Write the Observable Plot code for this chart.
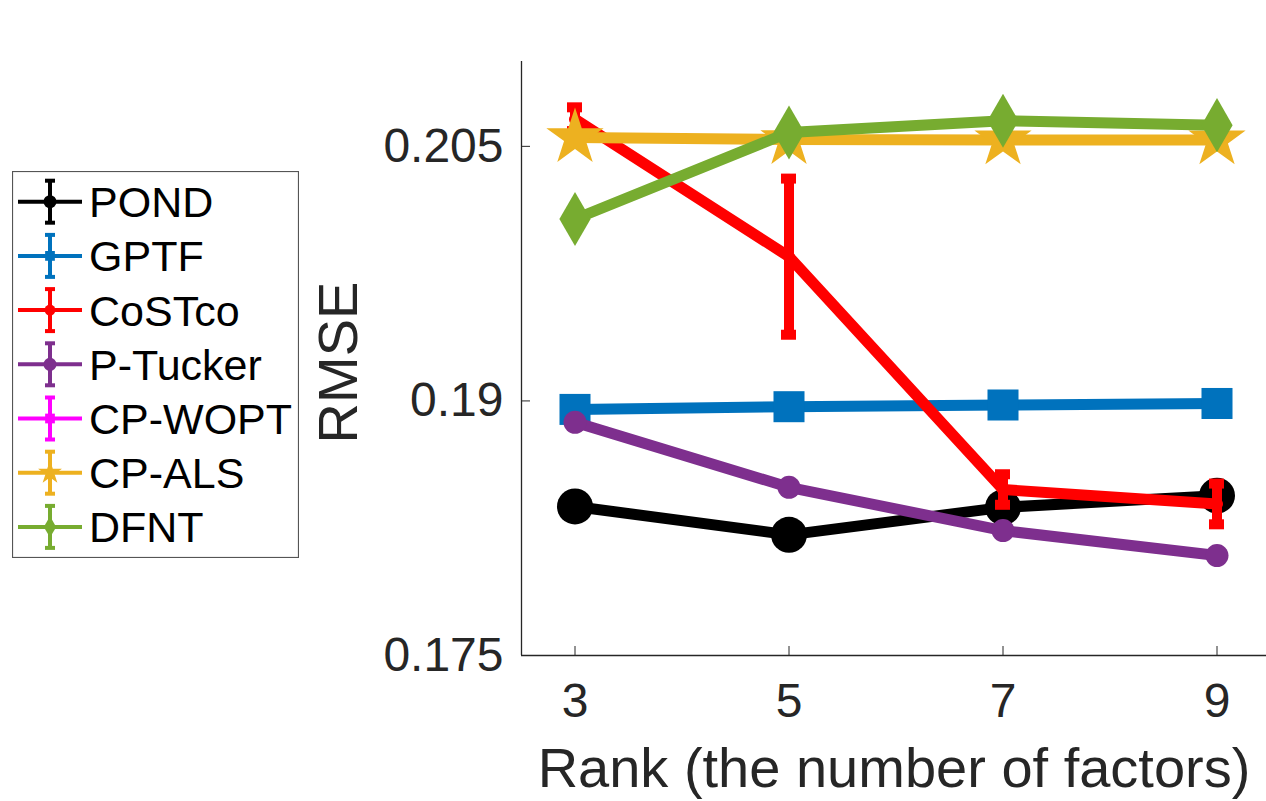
<!DOCTYPE html>
<html><head><meta charset="utf-8">
<script src="https://cdn.jsdelivr.net/npm/d3@7"></script>
<script src="https://cdn.jsdelivr.net/npm/@observablehq/plot@0.6"></script>
<style>
html,body{margin:0;padding:0;background:#fff;}
#wrap{position:relative;width:1266px;height:801px;overflow:hidden;}
#legend{position:absolute;left:12px;top:171px;}
</style></head><body><div id="wrap"></div>
<script>
// ---- data ----
const ranks = [3, 5, 7, 9];
const yTicks = [0.175, 0.19, 0.205];
const methods = ["POND", "GPTF", "CoSTco", "P-Tucker", "CP-WOPT", "CP-ALS", "DFNT"];
const colors = ["#000000", "#0072BD", "#FF0000", "#7E2F8E", "#FF00FF", "#EDB120", "#77AC30"];
const pond     = [0.18378, 0.18211, 0.18373, 0.18442];
const pondErr  = [0, 0, 0, 0];
const gptf     = [0.18950, 0.18966, 0.18976, 0.18985];
const gptfErr  = [0, 0, 0, 0];
const costco   = [0.20660, 0.19850, 0.18478, 0.18393];
const costcoErr= [0.0007, 0.0046, 0.0009, 0.0012];
const ptucker  = [0.18874, 0.18491, 0.18236, 0.18089];
const ptuckerErr = [0, 0, 0, 0];
const cpwopt   = [];   // CP-WOPT lies outside the plotted range (legend only)
const cpwoptErr= [];
const cpals    = [0.20552, 0.20540, 0.20538, 0.20538];
const cpalsErr = [0, 0, 0, 0];
const dfnt     = [0.20072, 0.20582, 0.20651, 0.20625];
const dfntErr  = [0, 0, 0, 0];

const seriesValues = [pond, gptf, costco, ptucker, cpwopt, cpals, dfnt];
const seriesErrs = [pondErr, gptfErr, costcoErr, ptuckerErr, cpwoptErr, cpalsErr, dfntErr];
const symbols = ["circle", "square", "circle", "circle", "square", "star", "diamond"];
const markerR = [18, 17.5, 6, 11.5, 8, 18, 16.4];
const legendR = [6.5, 5.5, 5.5, 6.5, 5.5, 7.5, 6.5];

const FONT = "'Liberation Sans', Arial, Helvetica, sans-serif";
const INK = "#262626";

// ---- build marks ----
const marks = [];
marks.push(Plot.ruleY([0.175], {stroke: INK, strokeWidth: 1.3}));
marks.push(Plot.ruleX([2.5], {stroke: INK, strokeWidth: 1.3}));
marks.push(Plot.axisY(yTicks, {tickSize: -9, tickPadding: 27, tickFormat: d => String(d), label: null, fontSize: 48, stroke: INK, fill: INK}));
marks.push(Plot.axisX(ranks, {tickSize: -9, tickPadding: 36, tickFormat: d => String(d), label: null, fontSize: 48, stroke: INK, fill: INK}));
marks.push(Plot.text(["RMSE"], {frameAnchor: "left", textAnchor: "middle", lineAnchor: "middle", dx: -182, dy: 4, rotate: -90, fontSize: 56, fill: INK}));
marks.push(Plot.text(["Rank (the number of factors)"], {frameAnchor: "bottom", dy: 131, fontSize: 56, fill: INK}));

methods.forEach((m, i) => {
  const rows = seriesValues[i].map((v, j) => ({rank: ranks[j], rmse: v, err: seriesErrs[i][j]}));
  if (!rows.length) return;
  const c = colors[i];
  marks.push(Plot.line(rows, {x: "rank", y: "rmse", stroke: c, strokeWidth: 11, strokeLinejoin: "miter"}));
  const eb = rows.filter(d => d.err > 0);
  if (eb.length) {
    marks.push(Plot.ruleX(eb, {x: "rank", y1: d => d.rmse - d.err, y2: d => d.rmse + d.err, stroke: c, strokeWidth: 10}));
    marks.push(Plot.ruleY(eb, {y: d => d.rmse + d.err, x1: d => d.rank - 0.07, x2: d => d.rank + 0.07, stroke: c, strokeWidth: 10}));
    marks.push(Plot.ruleY(eb, {y: d => d.rmse - d.err, x1: d => d.rank - 0.07, x2: d => d.rank + 0.07, stroke: c, strokeWidth: 10}));
  }
  marks.push(Plot.dot(rows, {x: "rank", y: "rmse", fill: c, stroke: "none", symbol: symbols[i], r: markerR[i]}));
});

const chart = Plot.plot({
  width: 1266, height: 801,
  marginLeft: 521, marginRight: 0, marginTop: 61, marginBottom: 146,
  x: {domain: [2.5, 9.5], range: [521, 1270]},
  y: {domain: [0.175, 0.21]},
  style: {fontFamily: FONT, color: INK, background: "white", overflow: "visible"},
  marks
});
document.getElementById("wrap").appendChild(chart);

// ---- legend ----
const LW = 287, LH = 387, rowH = 54.2, firstY = 30.7;
const lg = d3.select("#wrap").append("svg").attr("id", "legend").attr("width", LW).attr("height", LH);
lg.append("rect").attr("x", 0.5).attr("y", 0.5).attr("width", LW - 1).attr("height", LH - 1)
  .attr("fill", "white").attr("stroke", "#555").attr("stroke-width", 1.2);
const d3sym = {circle: d3.symbolCircle, square: d3.symbolSquare, star: d3.symbolStar, diamond: d3.symbolDiamond};
methods.forEach((m, i) => {
  const y = firstY + i * rowH, c = colors[i], g = lg.append("g");
  g.append("line").attr("x1", 6).attr("x2", 70).attr("y1", y).attr("y2", y).attr("stroke", c).attr("stroke-width", 4);
  g.append("line").attr("x1", 38).attr("x2", 38).attr("y1", y - 21).attr("y2", y + 21).attr("stroke", c).attr("stroke-width", 4);
  g.append("line").attr("x1", 33).attr("x2", 43).attr("y1", y - 21).attr("y2", y - 21).attr("stroke", c).attr("stroke-width", 4);
  g.append("line").attr("x1", 33).attr("x2", 43).attr("y1", y + 21).attr("y2", y + 21).attr("stroke", c).attr("stroke-width", 4);
  const r = legendR[i];
  g.append("path").attr("transform", `translate(38,${y})`)
    .attr("d", d3.symbol(d3sym[symbols[i]], Math.PI * r * r)()).attr("fill", c);
  g.append("text").attr("x", 77).attr("y", y).attr("dy", "0.36em")
    .attr("font-family", FONT).attr("font-size", 43).attr("fill", "#000").text(m);
});
</script></body></html>
